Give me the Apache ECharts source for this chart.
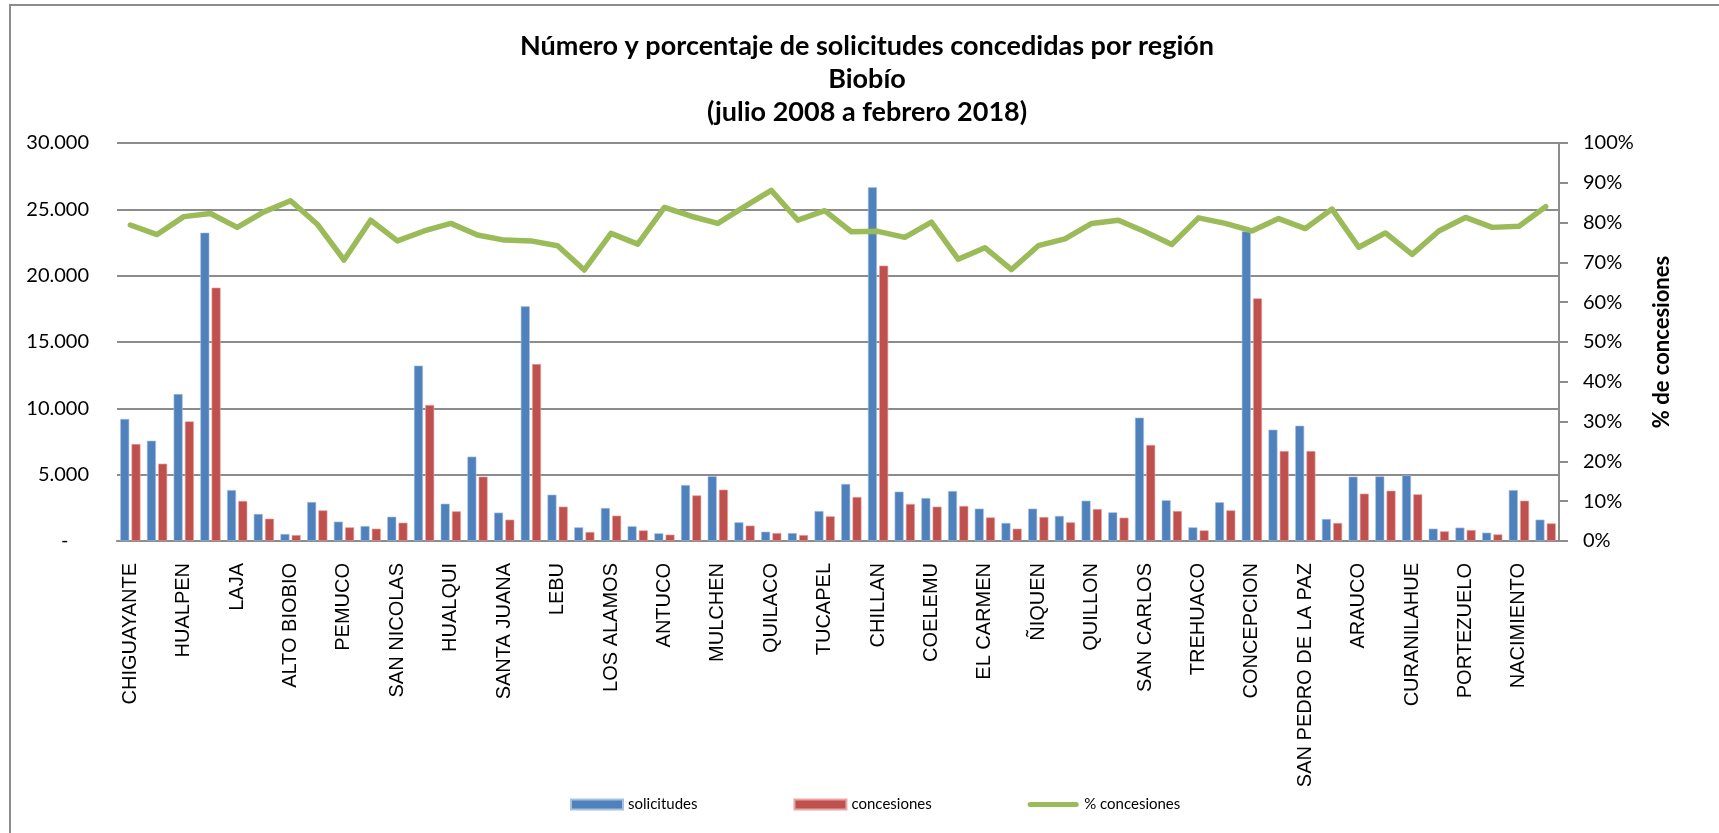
<!DOCTYPE html>
<html>
<head>
<meta charset="utf-8">
<script src="https://cdn.jsdelivr.net/npm/echarts@6/dist/echarts.min.js"></script>
<style>
  html, body { margin: 0; padding: 0; background: #fff; }
  #chart { width: 1719px; height: 833px; }
</style>
</head>
<body>
<div id="chart"></div>
<script>
// comunas (solo las pares llevan etiqueta visible)
var comunas = ['CHIGUAYANTE', 'PENCO', 'HUALPEN', 'LOS ANGELES', 'LAJA', 'CABRERO', 'ALTO BIOBIO', 'YUMBEL',
    'PEMUCO', 'PINTO', 'SAN NICOLAS', 'CORONEL', 'HUALQUI', 'TOME', 'SANTA JUANA', 'TALCAHUANO',
    'LEBU', 'CONTULMO', 'LOS ALAMOS', 'TIRUA', 'ANTUCO', 'SANTA BARBARA', 'MULCHEN', 'QUILLECO',
    'QUILACO', 'SAN ROSENDO', 'TUCAPEL', 'BULNES', 'CHILLAN', 'CHILLAN VIEJO', 'COELEMU', 'COIHUECO',
    'EL CARMEN', 'COBQUECURA', 'ÑIQUEN', 'NINHUE', 'QUILLON', 'QUIRIHUE', 'SAN CARLOS', 'YUNGAY',
    'TREHUACO', 'SAN FABIAN', 'CONCEPCION', 'LOTA', 'SAN PEDRO DE LA PAZ', 'FLORIDA', 'ARAUCO', 'CAÑETE',
    'CURANILAHUE', 'NEGRETE', 'PORTEZUELO', 'RANQUIL', 'NACIMIENTO', 'SAN IGNACIO'];

var solicitudes = [9200, 7560, 11080, 23240, 3840, 2040, 530, 2940, 1460, 1130, 1830, 13220, 2810, 6360,
    2140, 17690, 3490, 1030, 2490, 1110, 580, 4220, 4880, 1410, 700, 600, 2260, 4300, 26660, 3720,
    3240, 3770, 2440, 1360, 2440, 1890, 3040, 2160, 9300, 3070, 1030, 2920, 23340, 8390, 8690, 1660,
    4850, 4870, 4950, 930, 1010, 630, 3840, 1610];

var concesiones = [7310, 5830, 9020, 19100, 3020, 1680, 450, 2310, 1030, 930, 1380, 10250, 2240, 4850,
    1610, 13340, 2590, 680, 1910, 800, 480, 3440, 3870, 1160, 600, 450, 1860, 3320, 20760, 2790,
    2590, 2640, 1780, 930, 1810, 1410, 2410, 1760, 7240, 2260, 800, 2310, 18290, 6780, 6780, 1360,
    3570, 3790, 3520, 730, 830, 500, 3040, 1330];

var pctConcesiones = [79.4, 77.0, 81.5, 82.3, 78.8, 82.7, 85.5, 79.6, 70.6, 80.6, 75.4, 77.9, 79.8, 76.9,
    75.6, 75.4, 74.2, 68.1, 77.3, 74.6, 83.8, 81.6, 79.8, 84.0, 88.1, 80.6, 83.0, 77.7, 77.8, 76.3,
    80.1, 70.8, 73.7, 68.2, 74.2, 75.9, 79.8, 80.6, 77.7, 74.5, 81.2, 79.8, 77.9, 81.0, 78.5, 83.4,
    73.8, 77.4, 72.0, 77.9, 81.3, 78.8, 79.1, 84.0];

var tituloLineas = ['Número y porcentaje de solicitudes concedidas por región', 'Biobío', '(julio 2008 a febrero 2018)'];

var gris = '#8c8c8c';
var chart = echarts.init(document.getElementById('chart'));

function miles(v) {
    if (v === 0) return '-    ';
    return String(v).replace(/\B(?=(\d{3})+(?!\d))/g, '.');
}

// linea gruesa con puntas redondas para la leyenda (M0,0 M0,10 fija la caja)
var iconoLinea = 'path://M0,0 M0,10 M2.5,2.5 L48.5,2.5 A2.5,2.5 0 0 1 48.5,7.5 L2.5,7.5 A2.5,2.5 0 0 1 2.5,2.5 Z';

var option = {
    animation: false,
    backgroundColor: '#fff',
    title: {
        text: tituloLineas.join('\n'),
        left: 867,
        top: 30,
        textAlign: 'center',
        padding: 0,
        textStyle: {
            fontFamily: 'Lato',
            fontWeight: 'bold',
            fontSize: 27,
            lineHeight: 33,
            color: '#000'
        }
    },
    graphic: [{
        type: 'rect',
        silent: true,
        shape: { x: 10, y: 5, width: 1800, height: 900 },
        style: { fill: null, stroke: gris, lineWidth: 2 }
    }],
    legend: {
        left: 565,
        top: 792,
        itemWidth: 52,
        itemHeight: 10,
        itemGap: 96,
        textStyle: { fontFamily: 'Lato', fontSize: 15, color: '#000' },
        data: [
            { name: 'solicitudes', icon: 'rect' },
            { name: 'concesiones', icon: 'rect' },
            { name: '% concesiones', icon: iconoLinea }
        ]
    },
    grid: {
        left: 117,
        right: 160,
        top: 143,
        bottom: 292,
        containLabel: false
    },
    xAxis: {
        type: 'category',
        data: comunas,
        axisLine: { lineStyle: { color: gris, width: 2 } },
        axisTick: { show: false },
        axisLabel: {
            interval: 1,
            rotate: 90,
            margin: 22,
            fontFamily: 'Liberation Sans',
            fontSize: 20,
            color: '#000'
        }
    },
    yAxis: [{
        type: 'value',
        min: 0,
        max: 30000,
        interval: 5000,
        axisLine: { show: false },
        axisTick: { show: false },
        splitLine: { lineStyle: { color: gris, width: 2 } },
        axisLabel: {
            margin: 28,
            fontFamily: 'Lato',
            fontSize: 20,
            color: '#000',
            formatter: miles
        }
    }, {
        type: 'value',
        min: 0,
        max: 100,
        interval: 10,
        position: 'right',
        name: '% de concesiones',
        nameLocation: 'middle',
        nameRotate: 90,
        nameGap: 92,
        nameTextStyle: { fontFamily: 'Lato', fontWeight: 'bold', fontSize: 22, color: '#000' },
        axisLine: { show: true, lineStyle: { color: gris, width: 2 } },
        axisTick: { show: true, length: 9, lineStyle: { color: gris, width: 2 } },
        splitLine: { show: false },
        axisLabel: {
            margin: 24,
            fontFamily: 'Lato',
            fontSize: 20,
            color: '#000',
            formatter: '{value}%'
        }
    }],
    series: [{
        name: 'solicitudes',
        type: 'bar',
        data: solicitudes,
        barWidth: 9,
        barGap: '25%',
        itemStyle: { color: '#4F81BD', borderColor: '#a9c1e0', borderWidth: 0.6 }
    }, {
        name: 'concesiones',
        type: 'bar',
        data: concesiones,
        barWidth: 9,
        itemStyle: { color: '#C0504D', borderColor: '#e3a9a7', borderWidth: 0.6 }
    }, {
        name: '% concesiones',
        type: 'line',
        yAxisIndex: 1,
        data: pctConcesiones,
        symbol: 'none',
        lineStyle: { color: '#9BBB59', width: 5.5, join: 'round', cap: 'round' },
        itemStyle: { color: '#9BBB59' }
    }]
};

chart.setOption(option);
</script>
</body>
</html>
